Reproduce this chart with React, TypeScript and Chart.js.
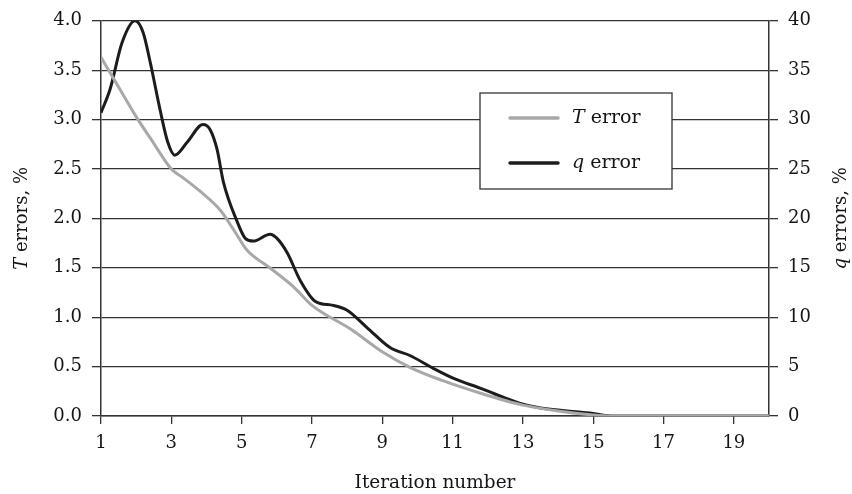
import React, { useEffect, useRef } from "react";
import { Chart, registerables } from "chart.js";

Chart.register(...registerables);

// Iteration positions (sampled along the smooth curves) and values
const tIterations = [1, 1.5, 2, 2.5, 3, 3.3, 3.8, 4.4, 4.8, 5.15, 5.8, 6.5, 7, 8.1, 9, 9.8, 10.7, 11.8, 13, 14, 15, 15.5, 16, 17, 18, 19, 20];
const tErrors = [3.63, 3.33, 3.03, 2.76, 2.5, 2.42, 2.28, 2.08, 1.87, 1.68, 1.5, 1.3, 1.12, 0.88, 0.65, 0.49, 0.36, 0.23, 0.11, 0.05, 0.01, 0, 0, 0, 0, 0, 0];

const qIterations = [1, 1.26, 1.6, 1.97, 2.2, 2.4, 2.68, 2.9, 3.1, 3.45, 3.9, 4.1, 4.3, 4.48, 4.87, 5.1, 5.33, 5.81, 6.0, 6.3, 6.67, 7.1, 7.6, 8.0, 8.58, 9.23, 9.8, 10.46, 11.03, 11.8, 12.9, 13.5, 14.9, 15.5, 16, 17, 18, 19, 20];
const qErrors = [30.7, 33.1, 37.8, 40, 38.8, 35.8, 31, 27.7, 26.4, 27.7, 29.5, 29.0, 27.0, 23.7, 19.7, 18.0, 17.7, 18.4, 18.0, 16.5, 13.7, 11.6, 11.2, 10.7, 8.9, 6.9, 6.1, 4.8, 3.8, 2.8, 1.3, 0.8, 0.3, 0, 0, 0, 0, 0, 0];

const xTickValues = [1, 3, 5, 7, 9, 11, 13, 15, 17, 19];

const FONT = "'DejaVu Serif', serif";
const AXIS_COLOR = "#333333";
const TEXT_COLOR = "#151515";

type Part = { text: string; italic?: boolean };

function drawParts(ctx: CanvasRenderingContext2D, parts: Part[], x: number, y: number, size: number, align: "center" | "left") {
  let total = 0;
  const widths = parts.map((p) => {
    ctx.font = `${p.italic ? "italic " : ""}${size}px ${FONT}`;
    const w = ctx.measureText(p.text).width;
    total += w;
    return w;
  });
  let cx = align === "center" ? x - total / 2 : x;
  ctx.textBaseline = "middle";
  ctx.textAlign = "left";
  parts.forEach((p, i) => {
    ctx.font = `${p.italic ? "italic " : ""}${size}px ${FONT}`;
    ctx.fillText(p.text, cx, y);
    cx += widths[i];
  });
}

const decorPlugin = {
  id: "decor",
  afterDraw(chart: any) {
    const ctx = chart.ctx as CanvasRenderingContext2D;
    const ca = chart.chartArea;
    ctx.save();
    ctx.fillStyle = TEXT_COLOR;
    // x title
    drawParts(ctx, [{ text: "Iteration number" }], (ca.left + ca.right) / 2, 483, 18.5, "center");
    // left title
    ctx.save();
    ctx.translate(22, (ca.top + ca.bottom) / 2);
    ctx.rotate(-Math.PI / 2);
    drawParts(ctx, [{ text: "T", italic: true }, { text: " errors, %" }], 0, 0, 18, "center");
    ctx.restore();
    // right title
    ctx.save();
    ctx.translate(841, (ca.top + ca.bottom) / 2);
    ctx.rotate(-Math.PI / 2);
    drawParts(ctx, [{ text: "q", italic: true }, { text: " errors, %" }], 0, 0, 18, "center");
    ctx.restore();

    // legend box
    const bx = 480, by = 93, bw = 192, bh = 96;
    ctx.fillStyle = "#ffffff";
    ctx.fillRect(bx, by, bw, bh);
    ctx.strokeStyle = AXIS_COLOR;
    ctx.lineWidth = 1.3;
    ctx.strokeRect(bx, by, bw, bh);
    const items = [
      { color: "#a8a8a8", parts: [{ text: "T", italic: true }, { text: " error" }], y: 118 },
      { color: "#1c1c1c", parts: [{ text: "q", italic: true }, { text: " error" }], y: 163 },
    ];
    items.forEach((it) => {
      ctx.strokeStyle = it.color;
      ctx.lineWidth = 3.5;
      ctx.lineCap = "round";
      ctx.beginPath();
      ctx.moveTo(510, it.y);
      ctx.lineTo(558, it.y);
      ctx.stroke();
      ctx.fillStyle = TEXT_COLOR;
      drawParts(ctx, it.parts, 572, it.y, 19, "left");
    });
    ctx.restore();
  },
};

export default function App() {
  const ref = useRef<HTMLCanvasElement | null>(null);

  useEffect(() => {
    document.body.style.margin = "0";
    const canvas = ref.current;
    if (!canvas) return;
    const tickFont = { family: FONT, size: 18 };
    const chart = new Chart(canvas, {
      type: "line",
      data: {
        datasets: [
          {
            label: "T error",
            data: tIterations.map((x, i) => ({ x, y: tErrors[i] })),
            borderColor: "#a8a8a8",
            borderWidth: 3,
            pointRadius: 0,
            cubicInterpolationMode: "monotone",
            yAxisID: "y",
          },
          {
            label: "q error",
            data: qIterations.map((x, i) => ({ x, y: qErrors[i] })),
            borderColor: "#1c1c1c",
            borderWidth: 3,
            pointRadius: 0,
            cubicInterpolationMode: "monotone",
            yAxisID: "y1",
          },
        ],
      },
      options: {
        responsive: false,
        animation: false,
        layout: { padding: { top: 18, left: 0, right: 0, bottom: 0 } },
        plugins: { legend: { display: false }, tooltip: { enabled: false } },
        scales: {
          x: {
            type: "linear",
            min: 1,
            max: 20,
            afterBuildTicks: (s: any) => {
              s.ticks = xTickValues.map((v) => ({ value: v }));
            },
            afterFit: (s: any) => {
              s.height = 78;
            },
            grid: { drawOnChartArea: false, drawTicks: true, tickLength: 8, color: AXIS_COLOR, lineWidth: 1.3 },
            border: { color: AXIS_COLOR, width: 1.5 },
            ticks: { padding: 9, color: TEXT_COLOR, font: tickFont, maxRotation: 0, autoSkip: false },
          },
          y: {
            position: "left",
            min: 0,
            max: 4,
            afterFit: (s: any) => {
              s.width = 101;
            },
            grid: { color: AXIS_COLOR, lineWidth: 1.3, tickLength: 9 },
            border: { color: AXIS_COLOR, width: 1.5 },
            ticks: { stepSize: 0.5, padding: 10, color: TEXT_COLOR, font: tickFont, callback: (v: any) => Number(v).toFixed(1) },
          },
          y1: {
            position: "right",
            min: 0,
            max: 40,
            afterFit: (s: any) => {
              s.width = 83;
            },
            grid: { drawOnChartArea: false, color: AXIS_COLOR, lineWidth: 1.3, tickLength: 9 },
            border: { color: AXIS_COLOR, width: 1.5 },
            ticks: { stepSize: 5, padding: 10, color: TEXT_COLOR, font: tickFont },
          },
        },
      } as any,
      plugins: [decorPlugin],
    });
    return () => chart.destroy();
  }, []);

  return (
    <div style={{ position: "absolute", left: 0, top: 0, width: 852, height: 494 }}>
      <canvas ref={ref} width={852} height={494} style={{ display: "block" }} />
    </div>
  );
}
